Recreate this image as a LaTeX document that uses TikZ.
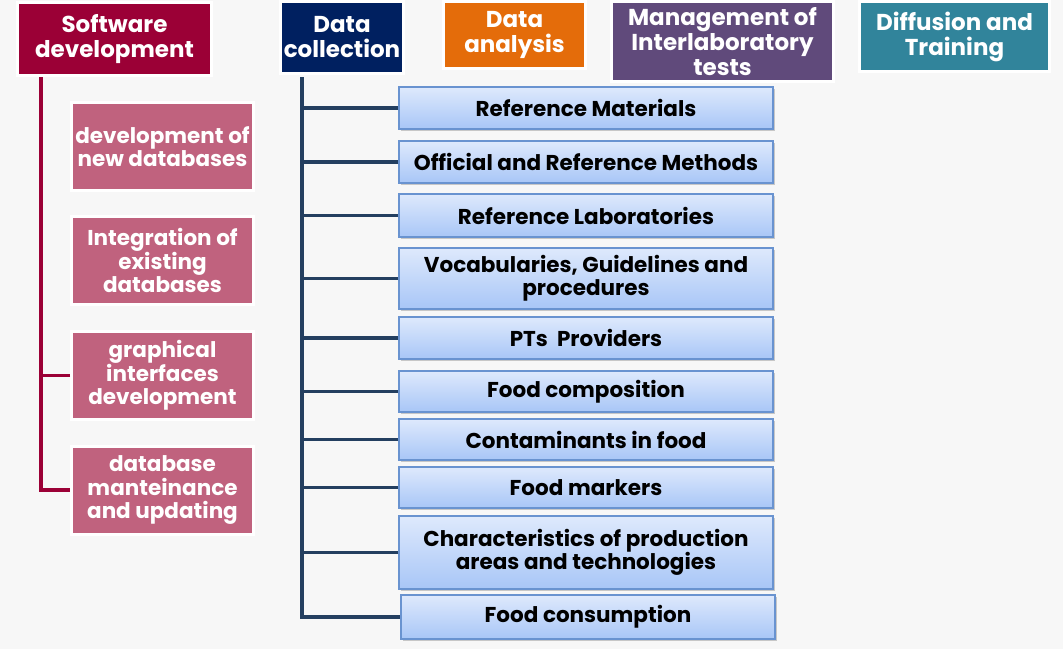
\documentclass[tikz,border=0pt]{standalone}
\usepackage{fontspec}
\setmainfont{Poppins}
\usetikzlibrary{shadows}
\definecolor{swred}{RGB}{155,0,54}
\definecolor{dcnavy}{RGB}{0,32,96}
\definecolor{daorange}{RGB}{228,108,10}
\definecolor{mgpurple}{RGB}{96,74,123}
\definecolor{dfteal}{RGB}{49,132,155}
\definecolor{subpink}{RGB}{192,98,126}
\definecolor{dcline}{RGB}{36,63,96}
\definecolor{itemtop}{RGB}{222,233,252}
\definecolor{itembot}{RGB}{168,198,247}
\definecolor{itemedge}{RGB}{105,147,208}
\definecolor{bg}{RGB}{247,247,247}
\tikzset{
  hdr/.style={draw=white,line width=3pt,inner sep=0,text=white,align=center,
    font=\fontsize{23}{25}\selectfont\bfseries},
  subbox/.style={draw=white,line width=3pt,fill=subpink,inner sep=0,text=white,
    align=center,minimum width=182pt,minimum height=88pt,
    font=\fontsize{21.5}{23.5}\selectfont\bfseries},
  itembox/.style={draw=itemedge,line width=1.3pt,top color=itemtop,bottom color=itembot,
    inner sep=0,align=center,minimum width=374pt,minimum height=42pt,
    font=\fontsize{21.5}{23}\selectfont\bfseries,
    drop shadow={shadow xshift=1.5pt,shadow yshift=-2pt,fill=black!40}},
  swconn/.style={draw=swred,line width=3.5pt},
  dcconn/.style={draw=dcline,line width=3.5pt}
}
\begin{document}
\begin{tikzpicture}[x=1pt,y=-1pt]
\fill[bg] (0,0) rectangle (1063,649);
\useasboundingbox (0,0) rectangle (1063,649);
% headers
\node[hdr,fill=swred,minimum width=194pt,minimum height=73pt](sw)at(114.5,39){Software\\development};
\node[hdr,fill=dcnavy,minimum width=123pt,minimum height=72pt](dc)at(342,37.5){Data\\collection};
\node[hdr,fill=daorange,minimum width=142pt,minimum height=67pt](da)at(514.5,35){Data\\analysis};
\node[hdr,fill=mgpurple,minimum width=222pt,minimum height=80pt](mg)at(722.5,41.5){Management of\\Interlaboratory\\tests};
\node[hdr,fill=dfteal,minimum width=190pt,minimum height=70pt](df)at(954.5,36.5){Diffusion and\\Training};
% software development
\node[subbox](sub1)at(162.5,146.5){development of\\new databases};
\node[subbox](sub2)at(162.5,260.5){Integration of\\existing\\databases};
\node[subbox](sub3)at(162.5,375.5){graphical\\interfaces\\development};
\node[subbox](sub4)at(162.5,490){database\\manteinance\\and updating};
\coordinate(swtop)at(41,77);
\draw[swconn](swtop)|-(sub4.west);
\draw[swconn](sub3.west)--(sub3.west-|swtop);
% data collection
\node[itembox](i1)at(586,108){Reference Materials};
\node[itembox](i2)at(586,162){Official and Reference Methods};
\node[itembox,minimum height=43pt](i3)at(586,215.5){Reference Laboratories};
\node[itembox,minimum height=61pt](i4)at(586,278.5){Vocabularies, Guidelines and\\procedures};
\node[itembox](i5)at(586,338){PTs~~Providers};
\node[itembox,minimum height=41pt](i6)at(586,391.5){Food composition};
\node[itembox,minimum height=41pt](i7)at(586,439.5){Contaminants in food};
\node[itembox,minimum height=41pt](i8)at(586,487.5){Food markers};
\node[itembox,minimum height=73pt](i9)at(586,552.5){Characteristics of production\\areas and technologies};
\node[itembox,minimum height=44pt](i10)at(588,617){Food consumption};
\coordinate(dctop)at(302,77);
\draw[dcconn](dctop)|-(i10.west);
\foreach \i in {1,...,9}{
  \draw[dcconn](i\i.west)--(i\i.west-|dctop);
}
\end{tikzpicture}
\end{document}
